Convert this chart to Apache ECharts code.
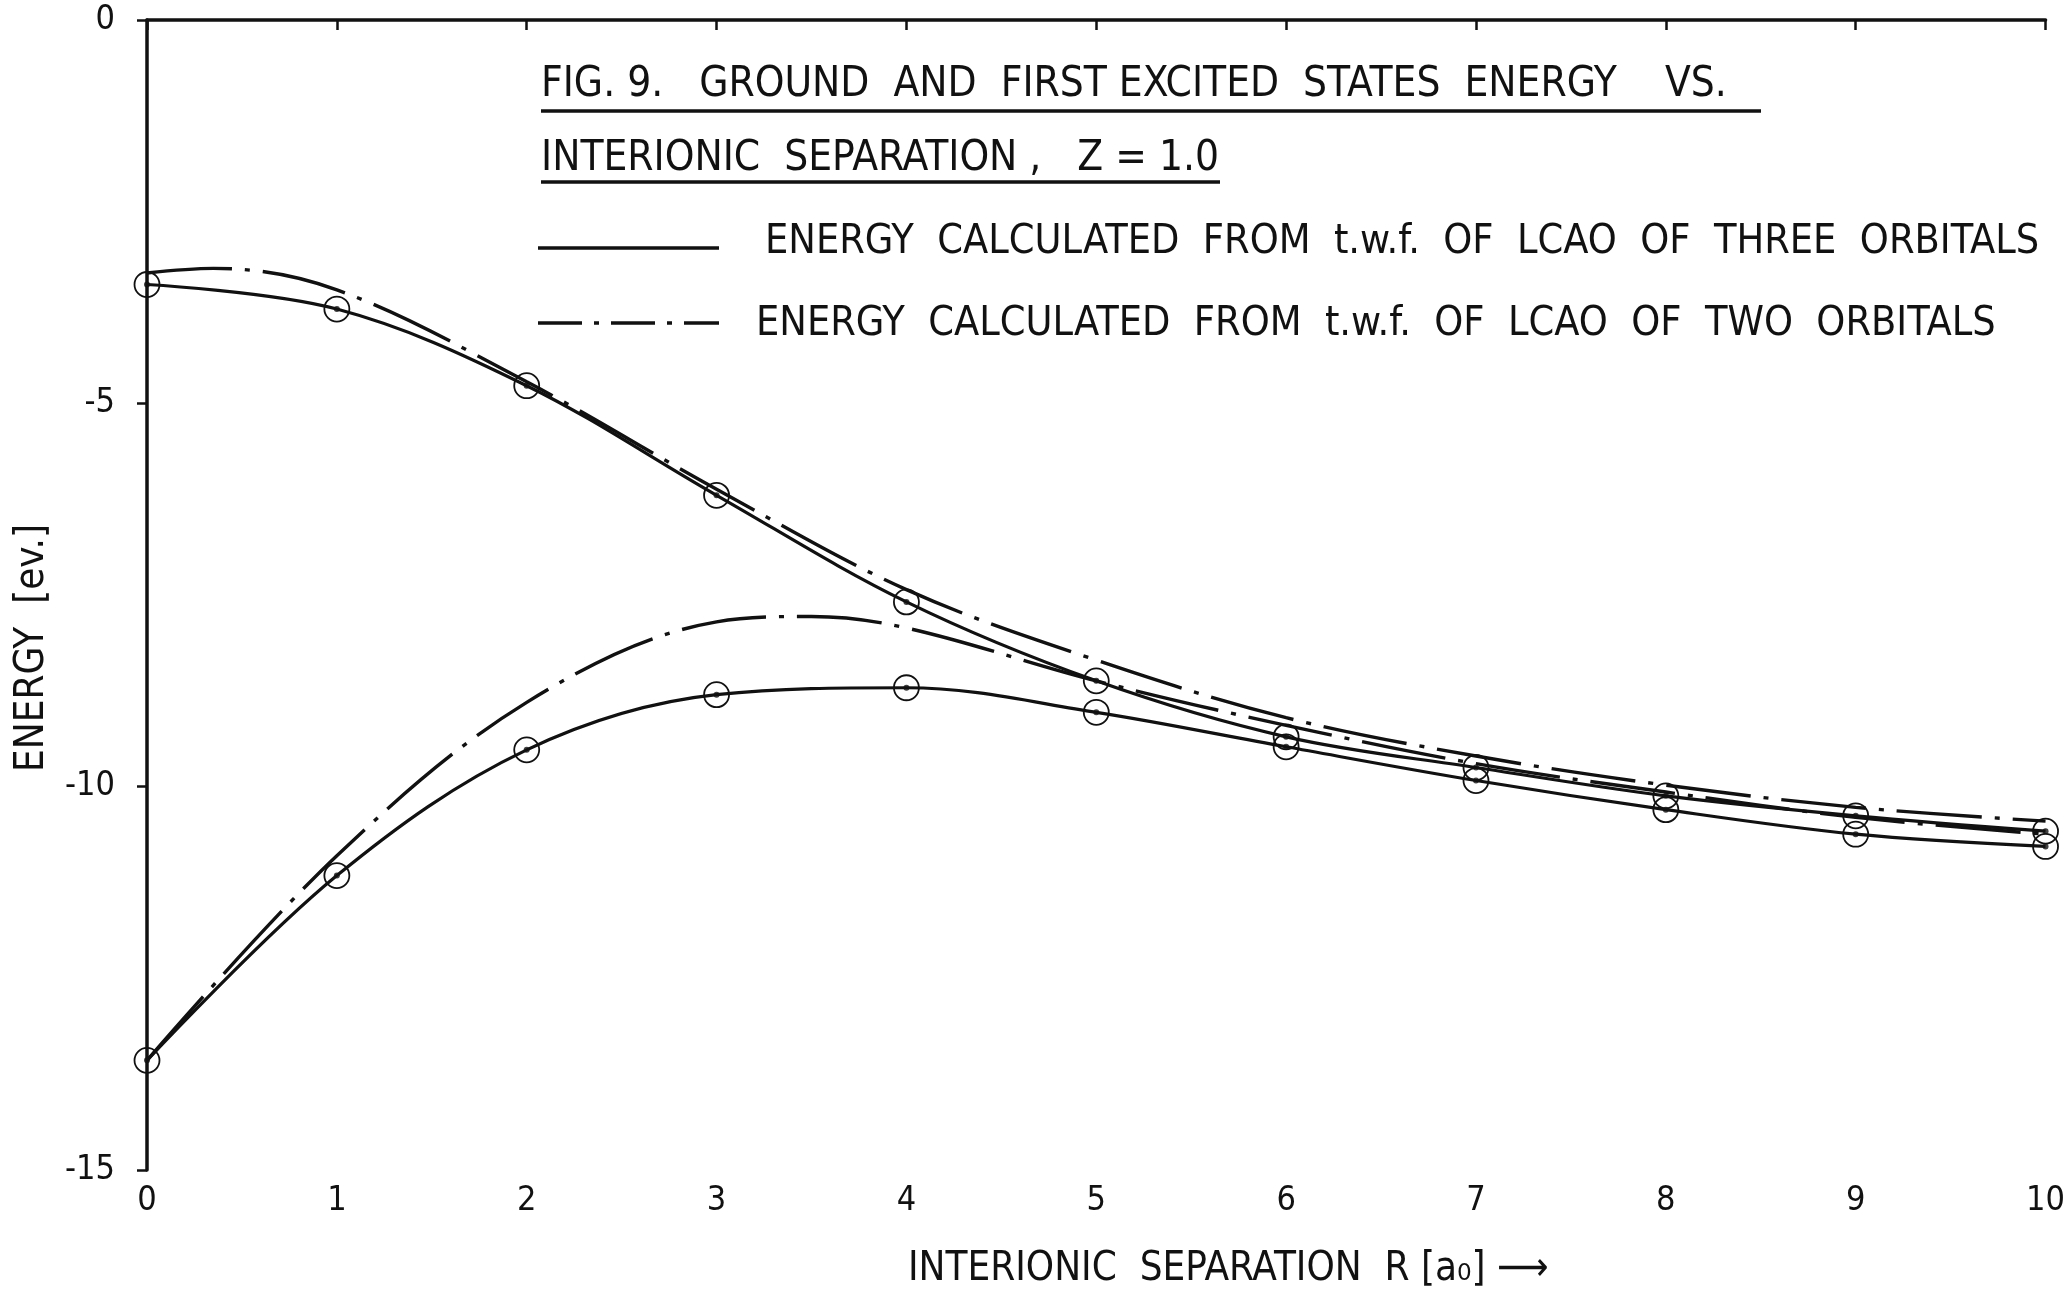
<!DOCTYPE html>
<html>
<head>
<meta charset="utf-8">
<script src="https://cdn.jsdelivr.net/npm/echarts@6/dist/echarts.min.js"></script>
<style>
html,body{margin:0;padding:0;background:#fff;}
#main{width:2068px;height:1297px;}
</style>
</head>
<body>
<div id="main"></div>
<script>
// ---- data ----
var xTicks = [0,1,2,3,4,5,6,7,8,9,10];
var yTicks = [0,-5,-10,-15];
// LCAO of three orbitals (solid, with computed points)
var threeExcitedR = [0,1,2,3,4,5,6,7,8,9,10];
var threeExcitedE = [-3.45,-3.77,-4.77,-6.2,-7.59,-8.62,-9.35,-9.75,-10.12,-10.38,-10.58];
var threeGroundR  = [0,1,2,3,4,5,6,7,8,9,10];
var threeGroundE  = [-13.57,-11.16,-9.52,-8.8,-8.71,-9.03,-9.48,-9.92,-10.3,-10.62,-10.78];
// LCAO of two orbitals (dash-dot curves)
var twoExcitedR = [0,0.35,1,2,3,4,5,6,7,8,9,10];
var twoExcitedE = [-3.3,-3.24,-3.52,-4.72,-6.12,-7.43,-8.35,-9.1,-9.6,-9.98,-10.27,-10.45];
var twoGroundR  = [0,1,2,3,3.5,4,5,6,7,8,9,10];
var twoGroundE  = [-13.57,-10.9,-8.9,-7.85,-7.78,-7.93,-8.62,-9.2,-9.7,-10.07,-10.4,-10.62];

var titleLine1 = 'FIG. 9.   GROUND  AND  FIRST EXCITED  STATES  ENERGY    VS.';
var titleLine2 = 'INTERIONIC  SEPARATION ,   Z = 1.0';
var legendThree = 'ENERGY  CALCULATED  FROM  t.w.f.  OF  LCAO  OF  THREE  ORBITALS';
var legendTwo   = 'ENERGY  CALCULATED  FROM  t.w.f.  OF  LCAO  OF  TWO  ORBITALS';
var xName = 'INTERIONIC  SEPARATION  R [a\u2080] \u27F6';
var yName = 'ENERGY  [ev.]';

function pairs(xs, ys){ return xs.map(function(x,i){ return [x, ys[i]]; }); }

var FONT = '"DejaVu Sans Condensed","Liberation Sans Narrow","DejaVu Sans",sans-serif';
var DASHDOT = [85, 13, 5, 13];

var chart = echarts.init(document.getElementById('main'), null, {renderer:'canvas'});

function solidSeries(name, xs, ys){
  return {
    name: name, type: 'line', smooth: 0.35, data: pairs(xs, ys),
    lineStyle: {color:'#111', width: 3.2},
    symbol: 'circle', symbolSize: 25, showSymbol: true,
    itemStyle: {color: 'rgba(0,0,0,0)', borderColor:'#111', borderWidth: 1.8},
    z: 3, animation: false
  };
}
function dotSeries(xs, ys){
  return {
    type: 'scatter', data: pairs(xs, ys), symbol: 'circle', symbolSize: 6,
    itemStyle: {color:'#111'}, z: 4, animation: false, silent: true
  };
}
function dashSeries(name, xs, ys){
  return {
    name: name, type: 'line', smooth: 0.35, data: pairs(xs, ys),
    lineStyle: {color:'#111', width: 3.4, type: DASHDOT},
    showSymbol: false, symbol: 'none', z: 2, animation: false
  };
}

var option = {
  backgroundColor: '#ffffff',
  animation: false,
  grid: {left: 147, right: 22, top: 20, bottom: 127, containLabel: false},
  xAxis: {
    type: 'value', min: 0, max: 10, interval: 1,
    axisLine: {show: true, lineStyle: {color:'#111', width: 3.5}},
    axisTick: {show: true, length: 10, lineStyle: {color:'#111', width: 2.5}},
    axisLabel: {color:'#111', fontSize: 34, fontFamily: FONT, margin: 14,
      formatter: function(v){ return xTicks.indexOf(v) >= 0 ? String(v) : ''; }},
    splitLine: {show: false},
    name: xName, nameLocation: 'middle', nameGap: 80,
    nameTextStyle: {color:'#111', fontSize: 40, fontFamily: FONT, padding: [0,0,0,264]}
  },
  yAxis: {
    type: 'value', min: -15, max: 0, interval: 5,
    axisLine: {show: true, lineStyle: {color:'#111', width: 3.5}},
    axisTick: {show: true, length: 10, lineStyle: {color:'#111', width: 2.5}},
    axisLabel: {color:'#111', fontSize: 34, fontFamily: FONT, margin: 32,
      formatter: function(v){ return yTicks.indexOf(v) >= 0 ? String(v) : ''; }},
    splitLine: {show: false},
    name: yName, nameLocation: 'middle', nameGap: 94, nameRotate: 90,
    nameTextStyle: {color:'#111', fontSize: 40, fontFamily: FONT, padding: [0,106,0,0]}
  },
  series: [
    solidSeries('three orbitals, first excited', threeExcitedR, threeExcitedE),
    solidSeries('three orbitals, ground', threeGroundR, threeGroundE),
    dotSeries(threeExcitedR, threeExcitedE),
    dotSeries(threeGroundR, threeGroundE),
    dashSeries('two orbitals, first excited', twoExcitedR, twoExcitedE),
    dashSeries('two orbitals, ground', twoGroundR, twoGroundE)
  ],
  graphic: [
    {type:'text', left: 541, top: 64, style:{text: titleLine1, font: '42px ' + FONT, fill:'#111'}},
    {type:'line', shape:{x1:541, y1:111, x2:1761, y2:111}, style:{stroke:'#111', lineWidth:3.5}},
    {type:'text', left: 541, top: 138, style:{text: titleLine2, font: '42px ' + FONT, fill:'#111'}},
    {type:'line', shape:{x1:541, y1:182, x2:1220, y2:182}, style:{stroke:'#111', lineWidth:3.5}},
    {type:'line', shape:{x1:538, y1:248, x2:719, y2:248}, style:{stroke:'#111', lineWidth:3.5}},
    {type:'text', left: 765, top: 222, style:{text: legendThree, font: '41px ' + FONT, fill:'#111'}},
    {type:'line', shape:{x1:538, y1:323, x2:719, y2:323}, style:{stroke:'#111', lineWidth:3.5, lineDash:[44,12,5,12]}},
    {type:'text', left: 756, top: 304, style:{text: legendTwo, font: '41px ' + FONT, fill:'#111'}}
  ]
};
chart.setOption(option);
</script>
</body>
</html>
